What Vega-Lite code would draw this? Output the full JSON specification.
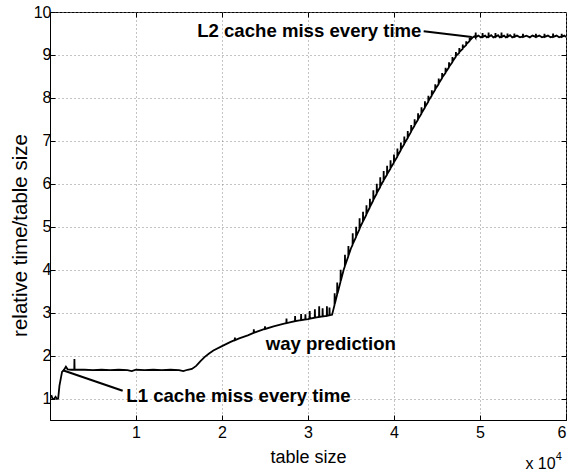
{
  "$schema": "https://vega.github.io/schema/vega-lite/v6.json",
  "width": 516,
  "height": 408,
  "autosize": "none",
  "padding": {"left": 50, "top": 12, "right": 7, "bottom": 54},
  "background": "white",
  "config": {
    "view": {"stroke": "black", "strokeWidth": 1},
    "font": "Liberation Sans",
    "axis": {
      "domainColor": "black",
      "tickColor": "black",
      "labelColor": "black",
      "titleColor": "black",
      "labelFont": "Liberation Sans",
      "titleFont": "Liberation Sans",
      "labelFontSize": 16,
      "titleFontSize": 18,
      "titleFontWeight": "normal",
      "gridColor": "#888888",
      "gridDash": [1, 3],
      "gridWidth": 1
    }
  },
  "datasets": {
    "curve": [
      {"x": 150, "y": 1.08}, {"x": 300, "y": 0.99}, {"x": 500, "y": 1.0}, {"x": 650, "y": 1.04}, {"x": 800, "y": 0.99}, {"x": 950, "y": 1.0},
      {"x": 1100, "y": 1.3}, {"x": 1400, "y": 1.62}, {"x": 1600, "y": 1.66}, {"x": 1850, "y": 1.74}, {"x": 2050, "y": 1.68},
      {"x": 2500, "y": 1.67}, {"x": 2820, "y": 1.67}, {"x": 2840, "y": 1.92}, {"x": 2860, "y": 1.67},
      {"x": 4000, "y": 1.67}, {"x": 5000, "y": 1.66}, {"x": 6000, "y": 1.67}, {"x": 7000, "y": 1.66}, {"x": 8000, "y": 1.67},
      {"x": 9000, "y": 1.66}, {"x": 9500, "y": 1.64}, {"x": 10000, "y": 1.67}, {"x": 11000, "y": 1.66}, {"x": 12000, "y": 1.67},
      {"x": 13000, "y": 1.66}, {"x": 14000, "y": 1.67}, {"x": 15000, "y": 1.66}, {"x": 15500, "y": 1.64}, {"x": 16000, "y": 1.67},
      {"x": 16500, "y": 1.69}, {"x": 17000, "y": 1.76}, {"x": 17500, "y": 1.87}, {"x": 18000, "y": 1.97}, {"x": 18500, "y": 2.05},
      {"x": 19000, "y": 2.12}, {"x": 20000, "y": 2.22}, {"x": 21000, "y": 2.32},
      {"x": 21480, "y": 2.36}, {"x": 21500, "y": 2.42}, {"x": 21520, "y": 2.36},
      {"x": 22000, "y": 2.40}, {"x": 23000, "y": 2.47},
      {"x": 23680, "y": 2.53}, {"x": 23700, "y": 2.61}, {"x": 23720, "y": 2.53},
      {"x": 24000, "y": 2.55},
      {"x": 24980, "y": 2.62}, {"x": 25000, "y": 2.68}, {"x": 25020, "y": 2.62},
      {"x": 26000, "y": 2.68}, {"x": 27000, "y": 2.73},
      {"x": 27480, "y": 2.755}, {"x": 27500, "y": 2.86}, {"x": 27520, "y": 2.755},
      {"x": 28000, "y": 2.78},
      {"x": 28480, "y": 2.80}, {"x": 28500, "y": 2.92}, {"x": 28520, "y": 2.80},
      {"x": 29000, "y": 2.82},
      {"x": 29180, "y": 2.826}, {"x": 29200, "y": 2.97}, {"x": 29220, "y": 2.826},
      {"x": 29680, "y": 2.84}, {"x": 29700, "y": 2.96}, {"x": 29720, "y": 2.84},
      {"x": 30000, "y": 2.85},
      {"x": 30180, "y": 2.858}, {"x": 30200, "y": 3.04}, {"x": 30220, "y": 2.858},
      {"x": 30780, "y": 2.882}, {"x": 30800, "y": 3.08}, {"x": 30820, "y": 2.882},
      {"x": 31000, "y": 2.89},
      {"x": 31280, "y": 2.90}, {"x": 31300, "y": 3.15}, {"x": 31320, "y": 2.90},
      {"x": 31680, "y": 2.91}, {"x": 31700, "y": 3.10}, {"x": 31720, "y": 2.91},
      {"x": 32000, "y": 2.92},
      {"x": 32180, "y": 2.927}, {"x": 32200, "y": 3.15}, {"x": 32220, "y": 2.927},
      {"x": 32480, "y": 2.94}, {"x": 32500, "y": 3.12}, {"x": 32520, "y": 2.94},
      {"x": 32800, "y": 2.95},
      {"x": 33085, "y": 3.18}, {"x": 33100, "y": 3.45}, {"x": 33115, "y": 3.2},
      {"x": 33385, "y": 3.42}, {"x": 33400, "y": 3.7}, {"x": 33415, "y": 3.44},
      {"x": 33500, "y": 3.5},
      {"x": 33785, "y": 3.72}, {"x": 33800, "y": 4.0}, {"x": 33815, "y": 3.74},
      {"x": 34150, "y": 4.0},
      {"x": 34285, "y": 4.08}, {"x": 34300, "y": 4.35}, {"x": 34315, "y": 4.1},
      {"x": 34685, "y": 4.31}, {"x": 34700, "y": 4.55}, {"x": 34715, "y": 4.33},
      {"x": 35000, "y": 4.5},
      {"x": 35185, "y": 4.58}, {"x": 35200, "y": 4.85}, {"x": 35215, "y": 4.6},
      {"x": 35585, "y": 4.76}, {"x": 35600, "y": 5.0}, {"x": 35615, "y": 4.78},
      {"x": 35985, "y": 4.94}, {"x": 36000, "y": 5.2}, {"x": 36015, "y": 4.96},
      {"x": 36100, "y": 5.0},
      {"x": 36385, "y": 5.12}, {"x": 36400, "y": 5.35}, {"x": 36415, "y": 5.13},
      {"x": 36785, "y": 5.28}, {"x": 36800, "y": 5.5}, {"x": 36815, "y": 5.3},
      {"x": 37185, "y": 5.45}, {"x": 37200, "y": 5.65}, {"x": 37215, "y": 5.47},
      {"x": 37300, "y": 5.5},
      {"x": 37585, "y": 5.61}, {"x": 37600, "y": 5.85}, {"x": 37615, "y": 5.63},
      {"x": 37985, "y": 5.77}, {"x": 38000, "y": 6.0}, {"x": 38015, "y": 5.79},
      {"x": 38385, "y": 5.92}, {"x": 38400, "y": 6.15}, {"x": 38415, "y": 5.94},
      {"x": 38570, "y": 6.0},
      {"x": 38785, "y": 6.07}, {"x": 38800, "y": 6.3}, {"x": 38815, "y": 6.09},
      {"x": 39185, "y": 6.21}, {"x": 39200, "y": 6.42}, {"x": 39215, "y": 6.23},
      {"x": 39585, "y": 6.35}, {"x": 39600, "y": 6.55}, {"x": 39615, "y": 6.37},
      {"x": 39985, "y": 6.49}, {"x": 40000, "y": 6.68}, {"x": 40015, "y": 6.51},
      {"x": 40385, "y": 6.63}, {"x": 40400, "y": 6.82}, {"x": 40415, "y": 6.65},
      {"x": 40785, "y": 6.78}, {"x": 40800, "y": 6.96}, {"x": 40815, "y": 6.8},
      {"x": 41185, "y": 6.92}, {"x": 41200, "y": 7.1}, {"x": 41215, "y": 6.94},
      {"x": 41390, "y": 7.0},
      {"x": 41585, "y": 7.06}, {"x": 41600, "y": 7.23}, {"x": 41615, "y": 7.08},
      {"x": 41985, "y": 7.21}, {"x": 42000, "y": 7.37}, {"x": 42015, "y": 7.23},
      {"x": 42385, "y": 7.35}, {"x": 42400, "y": 7.5}, {"x": 42415, "y": 7.37},
      {"x": 42785, "y": 7.49}, {"x": 42800, "y": 7.64}, {"x": 42815, "y": 7.51},
      {"x": 43185, "y": 7.63}, {"x": 43200, "y": 7.78}, {"x": 43215, "y": 7.65},
      {"x": 43585, "y": 7.77}, {"x": 43600, "y": 7.92}, {"x": 43615, "y": 7.79},
      {"x": 43985, "y": 7.91}, {"x": 44000, "y": 8.05}, {"x": 44015, "y": 7.93},
      {"x": 44220, "y": 8.0},
      {"x": 44385, "y": 8.05}, {"x": 44400, "y": 8.18}, {"x": 44415, "y": 8.07},
      {"x": 44785, "y": 8.19}, {"x": 44800, "y": 8.32}, {"x": 44815, "y": 8.21},
      {"x": 45185, "y": 8.32}, {"x": 45200, "y": 8.45}, {"x": 45215, "y": 8.34},
      {"x": 45585, "y": 8.46}, {"x": 45600, "y": 8.58}, {"x": 45615, "y": 8.48},
      {"x": 45985, "y": 8.58}, {"x": 46000, "y": 8.7}, {"x": 46015, "y": 8.6},
      {"x": 46385, "y": 8.71}, {"x": 46400, "y": 8.83}, {"x": 46415, "y": 8.73},
      {"x": 46785, "y": 8.83}, {"x": 46800, "y": 8.95}, {"x": 46815, "y": 8.85},
      {"x": 47185, "y": 8.96}, {"x": 47200, "y": 9.07}, {"x": 47215, "y": 8.98},
      {"x": 47585, "y": 9.05}, {"x": 47600, "y": 9.16}, {"x": 47615, "y": 9.07},
      {"x": 47985, "y": 9.14}, {"x": 48000, "y": 9.24}, {"x": 48015, "y": 9.16},
      {"x": 48385, "y": 9.23}, {"x": 48400, "y": 9.32}, {"x": 48415, "y": 9.25},
      {"x": 48785, "y": 9.32}, {"x": 48800, "y": 9.4}, {"x": 48815, "y": 9.34},
      {"x": 49100, "y": 9.4},
      {"x": 49400, "y": 9.44}, {"x": 49480, "y": 9.41}, {"x": 49500, "y": 9.52}, {"x": 49520, "y": 9.41},
      {"x": 49800, "y": 9.45}, {"x": 50100, "y": 9.41}, {"x": 50280, "y": 9.43}, {"x": 50300, "y": 9.51}, {"x": 50320, "y": 9.42},
      {"x": 50600, "y": 9.45}, {"x": 50800, "y": 9.41}, {"x": 50980, "y": 9.43}, {"x": 51000, "y": 9.52}, {"x": 51020, "y": 9.42},
      {"x": 51300, "y": 9.46}, {"x": 51550, "y": 9.41}, {"x": 51780, "y": 9.43}, {"x": 51800, "y": 9.51}, {"x": 51820, "y": 9.42},
      {"x": 52100, "y": 9.46}, {"x": 52300, "y": 9.41}, {"x": 52480, "y": 9.43}, {"x": 52500, "y": 9.52}, {"x": 52520, "y": 9.42},
      {"x": 52800, "y": 9.45}, {"x": 53000, "y": 9.41}, {"x": 53180, "y": 9.43}, {"x": 53200, "y": 9.5}, {"x": 53220, "y": 9.42},
      {"x": 53500, "y": 9.46}, {"x": 53750, "y": 9.41}, {"x": 53980, "y": 9.43}, {"x": 54000, "y": 9.5}, {"x": 54020, "y": 9.42},
      {"x": 54300, "y": 9.45}, {"x": 54650, "y": 9.41}, {"x": 54980, "y": 9.43}, {"x": 55000, "y": 9.49}, {"x": 55020, "y": 9.42},
      {"x": 55400, "y": 9.45}, {"x": 55800, "y": 9.41}, {"x": 56100, "y": 9.45}, {"x": 56480, "y": 9.42}, {"x": 56500, "y": 9.49}, {"x": 56520, "y": 9.42},
      {"x": 56900, "y": 9.45}, {"x": 57200, "y": 9.41}, {"x": 57480, "y": 9.43}, {"x": 57500, "y": 9.49}, {"x": 57520, "y": 9.42},
      {"x": 57900, "y": 9.45}, {"x": 58200, "y": 9.41}, {"x": 58480, "y": 9.43}, {"x": 58500, "y": 9.5}, {"x": 58520, "y": 9.42},
      {"x": 58900, "y": 9.45}, {"x": 59200, "y": 9.41}, {"x": 59480, "y": 9.43}, {"x": 59500, "y": 9.49}, {"x": 59520, "y": 9.42},
      {"x": 59800, "y": 9.45}, {"x": 60000, "y": 9.42}
    ],
    "arrows": [
      {"x": 1490, "y": 1.66, "x2": 8450, "y2": 1.18},
      {"x": 43450, "y": 9.55, "x2": 49050, "y2": 9.42}
    ],
    "labels": [
      {"x": 8870, "y": 1.05, "label": "L1 cache miss every time"},
      {"x": 17110, "y": 9.56, "label": "L2 cache miss every time"},
      {"x": 25080, "y": 2.28, "label": "way prediction"}
    ],
    "mult": [{"x": 55280, "y": -0.53, "label": "x 10"}],
    "expo": [{"x": 58820, "y": -0.357, "label": "4"}]
  },
  "layer": [
    {
      "data": {"name": "curve"},
      "mark": {"type": "line", "color": "black", "strokeWidth": 1.8, "clip": true},
      "encoding": {
        "x": {
          "field": "x", "type": "quantitative",
          "scale": {"domain": [0, 60000], "nice": false, "zero": false},
          "axis": {
            "orient": "bottom", "title": "table size",
            "values": [10000, 20000, 30000, 40000, 50000, 60000],
            "labelExpr": "datum.value / 10000",
            "tickSize": -5, "labelPadding": 9, "grid": true,
            "titleBaseline": "alphabetic", "titleY": 42
          }
        },
        "y": {
          "field": "y", "type": "quantitative",
          "scale": {"domain": [0.5, 10], "nice": false, "zero": false},
          "axis": {
            "orient": "left", "title": "relative time/table size",
            "values": [1, 2, 3, 4, 5, 6, 7, 8, 9, 10],
            "tickSize": -5, "labelPadding": 4, "grid": true,
            "titleFontSize": 20.5,
            "titleBaseline": "alphabetic", "titleX": -24, "titleY": 223
          }
        }
      }
    },
    {
      "data": {"name": "arrows"},
      "mark": {"type": "rule", "color": "black", "strokeWidth": 2},
      "encoding": {
        "x": {
          "field": "x", "type": "quantitative",
          "scale": {"domain": [0, 60000], "nice": false, "zero": false},
          "axis": {"orient": "top", "title": null, "labels": false, "grid": false, "domain": false,
                   "values": [10000, 20000, 30000, 40000, 50000], "tickSize": -5}
        },
        "y": {
          "field": "y", "type": "quantitative",
          "scale": {"domain": [0.5, 10], "nice": false, "zero": false},
          "axis": {"orient": "right", "title": null, "labels": false, "grid": false, "domain": false,
                   "values": [1, 2, 3, 4, 5, 6, 7, 8, 9], "tickSize": -5}
        },
        "x2": {"field": "x2"},
        "y2": {"field": "y2"}
      }
    },
    {
      "data": {"name": "labels"},
      "mark": {"type": "text", "font": "Liberation Sans", "fontSize": 18.6, "fontWeight": "bold", "align": "left", "baseline": "middle", "color": "black"},
      "encoding": {
        "x": {"field": "x", "type": "quantitative", "scale": {"domain": [0, 60000], "nice": false, "zero": false}, "axis": null},
        "y": {"field": "y", "type": "quantitative", "scale": {"domain": [0.5, 10], "nice": false, "zero": false}, "axis": null},
        "text": {"field": "label"}
      }
    },
    {
      "data": {"name": "mult"},
      "mark": {"type": "text", "font": "Liberation Sans", "fontSize": 16, "align": "left", "baseline": "middle", "color": "black"},
      "encoding": {
        "x": {"field": "x", "type": "quantitative", "scale": {"domain": [0, 60000], "nice": false, "zero": false}, "axis": null},
        "y": {"field": "y", "type": "quantitative", "scale": {"domain": [0.5, 10], "nice": false, "zero": false}, "axis": null},
        "text": {"field": "label"}
      }
    },
    {
      "data": {"name": "expo"},
      "mark": {"type": "text", "font": "Liberation Sans", "fontSize": 11, "align": "left", "baseline": "middle", "color": "black"},
      "encoding": {
        "x": {"field": "x", "type": "quantitative", "scale": {"domain": [0, 60000], "nice": false, "zero": false}, "axis": null},
        "y": {"field": "y", "type": "quantitative", "scale": {"domain": [0.5, 10], "nice": false, "zero": false}, "axis": null},
        "text": {"field": "label"}
      }
    }
  ],
  "resolve": {"axis": {"x": "independent", "y": "independent"}}
}
